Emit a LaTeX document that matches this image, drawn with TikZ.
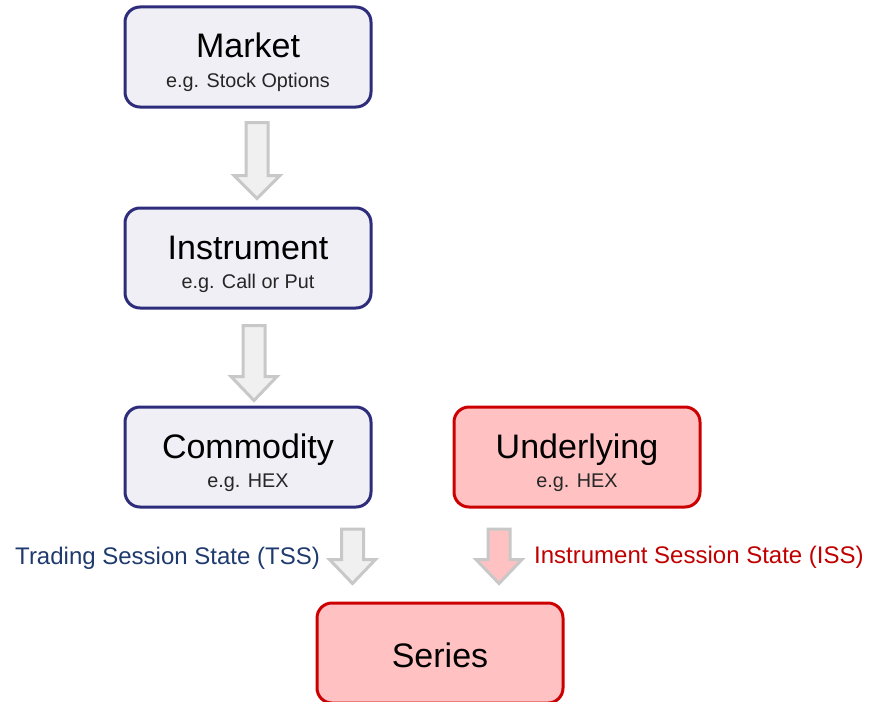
\documentclass[tikz,border=0pt]{standalone}
\usepackage{fontspec}
\setmainfont{Liberation Sans}
\usetikzlibrary{calc}
\definecolor{navyB}{HTML}{2E2D7C}
\definecolor{blueF}{HTML}{EFEFF5}
\definecolor{redB}{HTML}{CC0000}
\definecolor{redF}{HTML}{FFC1C1}
\definecolor{arrB}{HTML}{C8C8C8}
\definecolor{arrF}{HTML}{F0F0F0}
\definecolor{tssC}{HTML}{1F3A6E}
\definecolor{issC}{HTML}{C00000}
\newcommand\blockarr[4]{% start, end, head start offset from end, fill
  \draw[arrshape,fill=#4]
    ($(#1)+(-11,0)$) -- ($(#1)+(11,0)$) -- ($(#2)+(11,-#3)$) -- ($(#2)+(23,-#3)$)
    -- (#2) -- ($(#2)+(-23,-#3)$) -- ($(#2)+(-11,-#3)$) -- cycle;}
\begin{document}
\begin{tikzpicture}[x=1pt,y=-1pt,
  bluebox/.style={draw=navyB,fill=blueF,line width=3pt,rounded corners=15pt,minimum width=246pt,minimum height=100pt,inner sep=0pt},
  redbox/.style={draw=redB,fill=redF,line width=3pt,rounded corners=15pt,minimum width=246pt,minimum height=100pt,inner sep=0pt},
  ttl/.style={anchor=base,font=\fontsize{34}{34}\selectfont,text=black,inner sep=0pt},
  sub/.style={anchor=base,font=\fontsize{19.8}{20}\selectfont,text=black!85,inner sep=0pt},
  arrshape/.style={draw=arrB,line width=3pt,line join=miter},
  lbl/.style={font=\fontsize{24}{24}\selectfont,inner sep=0pt}]
\useasboundingbox (0,0) rectangle (869,701);
\begin{scope}
\clip (0,0) rectangle (869,701);
\node[bluebox] (market) at (248,57) {};
\node[ttl] (marketT) at ($(market.center)+(0,1)$) {Market};
\node[sub] (marketS) at ($(market.center)+(0,30)$) {e.g. Stock Options};

\node[bluebox] (instr) at (248,258) {};
\node[ttl] (instrT) at ($(instr.center)+(0,1)$) {Instrument};
\node[sub] (instrS) at ($(instr.center)+(0,30)$) {e.g. Call or Put};

\node[bluebox] (comm) at (248,457) {};
\node[ttl] (commT) at ($(comm.center)+(0,1)$) {Commodity};
\node[sub] (commS) at ($(comm.center)+(0,30)$) {e.g. HEX};

\node[redbox] (under) at (577,457) {};
\node[ttl] (underT) at ($(under.center)+(0,1)$) {Underlying};
\node[sub] (underS) at ($(under.center)+(0,30)$) {e.g. HEX};

\node[redbox] (series) at (440,653) {};
\node[ttl] (seriesT) at ($(series.center)+(0,14)$) {Series};
\end{scope}

\coordinate (a1s) at ($(market.south)+(9,14)$);
\coordinate (a1e) at ($(instr.north)+(9,-8)$);
\blockarr{a1s}{a1e}{23}{arrF}
\coordinate (a2s) at ($(instr.south)+(6,16)$);
\coordinate (a2e) at ($(comm.north)+(6,-5)$);
\blockarr{a2s}{a2e}{24}{arrF}
\coordinate (a3s) at (352.5,529);
\coordinate (a3e) at ($(series.north)+(-87.5,-18)$);
\blockarr{a3s}{a3e}{24}{arrF}
\coordinate (a4s) at (499,529);
\coordinate (a4e) at ($(series.north)+(59,-18)$);
\blockarr{a4s}{a4e}{24}{redF}

\node[lbl,text=tssC,anchor=base east] (tss) at (320,564) {Trading Session State (TSS)};
\node[lbl,text=issC,anchor=base west] (iss) at (534,563) {Instrument Session State (ISS)};
\end{tikzpicture}
\end{document}
